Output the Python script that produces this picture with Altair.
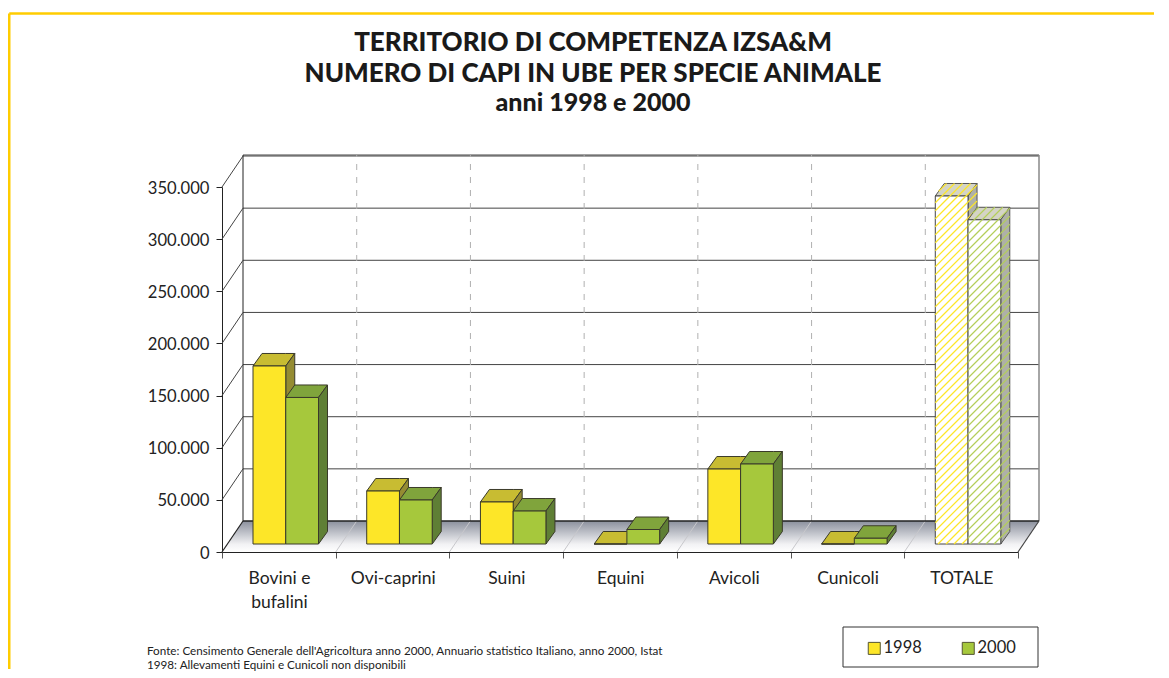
import json
import altair as alt
import pandas as pd

categories = ["Bovini e\nbufalini", "Ovi-caprini", "Suini", "Equini", "Avicoli", "Cunicoli", "TOTALE"]
values_1998 = [170700, 50800, 40300, 0, 71900, 0, 333700]
values_2000 = [140500, 42200, 31600, 13900, 76700, 5500, 310900]
y_ticks = [0, 50000, 100000, 150000, 200000, 250000, 300000, 350000]
title_lines = ["TERRITORIO DI COMPETENZA IZSA&M", "NUMERO DI CAPI IN UBE PER SPECIE ANIMALE", "anni 1998 e 2000"]
notes = ["Fonte: Censimento Generale dell'Agricoltura anno 2000, Annuario statistico Italiano, anno 2000, Istat",
         "1998: Allevamenti Equini e Cunicoli non disponibili"]

W, H = 796, 365
YMAX = 350000
NCAT = len(categories)
FONT = "Lato"
ux = lambda px: px * NCAT / W      # pixels -> x units
uy = lambda px: px * YMAX / H      # pixels -> y units
xs = alt.Scale(domain=[0, NCAT], nice=False, zero=False)
ys = alt.Scale(domain=[0, YMAX], nice=False, zero=False)
X = lambda f="x": alt.X(f"{f}:Q", scale=xs, title=None)
Y = lambda f="y": alt.Y(f"{f}:Q", scale=ys, title=None, stack=None)

WALL_X, WALL_Y = ux(21), uy(31)
BASE_Y = uy(8)
DEP_X, DEP_Y = ux(9), uy(12.5)
BAR_W = ux(32.75)
GROUP_START = ux(31)


def rule(rows, color, width=1.0, dash=None):
    kw = dict(color=color, strokeWidth=width)
    if dash:
        kw["strokeDash"] = dash
    return alt.Chart(pd.DataFrame(rows)).mark_rule(**kw).encode(
        x=X("x"), x2=alt.X2("x2"), y=Y("y"), y2=alt.Y2("y2"))


def polys(rows, fill, stroke="#3a3a2a", width=1.0):
    return alt.Chart(pd.DataFrame(rows)).mark_area(
        fill=fill, stroke=stroke, strokeWidth=width, strokeJoin="round", opacity=1
    ).encode(x=X("x"), y=Y("y"), y2=alt.Y2("y2"), detail="id:N")


def top_face(pid, x0, x1, v):
    return [
        dict(id=pid, x=x0, y=v, y2=v),
        dict(id=pid, x=x0 + DEP_X, y=v, y2=v + DEP_Y),
        dict(id=pid, x=x1, y=v, y2=v + DEP_Y),
        dict(id=pid, x=x1 + DEP_X, y=v + DEP_Y, y2=v + DEP_Y),
    ]


def side_face(pid, x1, base, v):
    return [
        dict(id=pid, x=x1, y=base, y2=v),
        dict(id=pid, x=x1 + DEP_X, y=base + DEP_Y, y2=v + DEP_Y),
    ]


def clip_hatch(poly, step=8.0):
    """Diagonal hatch lines clipped to a convex polygon, given in pixel-like units."""
    cs = [py - px for px, py in poly]
    out = []
    c = -4000 + step * 0.5
    lo, hi = min(cs), max(cs)
    n = len(poly)
    area = sum(poly[i][0] * poly[(i + 1) % n][1] - poly[(i + 1) % n][0] * poly[i][1] for i in range(n))
    sgn = 1 if area > 0 else -1
    while c < hi:
        if c > lo:
            t0, t1 = -1e9, 1e9
            ok = True
            for i in range(n):
                ax, ay = poly[i]
                bx, by = poly[(i + 1) % n]
                nx, ny = -(by - ay) * sgn, (bx - ax) * sgn
                denom = nx + ny
                num = nx * (0 - ax) + ny * (c - ay)
                if abs(denom) < 1e-9:
                    if num < 0:
                        ok = False
                else:
                    t = -num / denom
                    if denom > 0:
                        t0 = max(t0, t)
                    else:
                        t1 = min(t1, t)
            if ok and t1 > t0:
                out.append(dict(x=t0 * NCAT / W, x2=t1 * NCAT / W, y=(t0 + c) * YMAX / H, y2=(t1 + c) * YMAX / H))
        c += step
    return out


def to_px(pts):
    return [(a * W / NCAT, b * H / YMAX) for a, b in pts]


BASE = BASE_Y
fronts, tops, sides = {"1998": [], "2000": []}, {"1998": [], "2000": []}, {"1998": [], "2000": []}
t_front, t_top, t_side, hatches = {}, {}, {}, {}
for yr, vals, shift in (("1998", values_1998, 0), ("2000", values_2000, 1)):
    hatches[yr] = []
    for i, val in enumerate(vals):
        x0 = i + GROUP_START + shift * BAR_W
        x1 = x0 + BAR_W
        v = BASE + val
        if i == NCAT - 1:
            t_front[yr] = [dict(x=x0, x2=x1, y=BASE, y2=v)]
            t_top[yr] = top_face(f"t{yr}", x0, x1, v)
            t_side[yr] = side_face(f"s{yr}", x1, BASE, v)
            for pts in (
                [(x0, BASE), (x1, BASE), (x1, v), (x0, v)],
                [(x0, v), (x1, v), (x1 + DEP_X, v + DEP_Y), (x0 + DEP_X, v + DEP_Y)],
                [(x1, BASE), (x1 + DEP_X, BASE + DEP_Y), (x1 + DEP_X, v + DEP_Y), (x1, v)],
            ):
                hatches[yr] += clip_hatch(to_px(pts))
        else:
            fronts[yr].append(dict(x=x0, x2=x1, y=BASE, y2=v, year=yr))
            tops[yr] += top_face(f"t{yr}{i}", x0, x1, v)
            sides[yr] += side_face(f"s{yr}{i}", x1, BASE, v)

color = alt.Color("year:N", scale=alt.Scale(domain=["1998", "2000"], range=["#FDE628", "#A6C83C"]),
                  legend=alt.Legend(title=None, orient="none", legendX=644, legendY=453, direction="horizontal",
                                    columns=2, padding=0,
                                    symbolType="square", symbolSize=144, symbolStrokeWidth=1,
                                    symbolStrokeColor="#555533", labelFont=FONT, labelFontSize=16.5,
                                    labelColor="#222222", labelOffset=1, columnPadding=38, symbolOpacity=1))


def front(yr):
    return alt.Chart(pd.DataFrame(fronts[yr])).mark_rect(stroke="#3a3a2a", strokeWidth=1, opacity=1).encode(
        x=X("x"), x2=alt.X2("x2"), y=Y("y"), y2=alt.Y2("y2"), color=color)


def t_rect(yr):
    return alt.Chart(pd.DataFrame(t_front[yr])).mark_rect(fill="white", stroke="#444444", strokeWidth=1).encode(
        x=X("x"), x2=alt.X2("x2"), y=Y("y"), y2=alt.Y2("y2"))


layers = []

# real axes
axis_df = pd.DataFrame({"x": [0.0], "y": [0.0]})
label_expr = "split((" + json.dumps(categories) + ")[datum.value] || '', '\\n')"
layers.append(alt.Chart(axis_df).mark_point(opacity=0).encode(
    x=alt.X("x:Q", scale=xs, title=None, axis=alt.Axis(
        values=list(range(NCAT + 1)), labelExpr=label_expr, labelOffset=57, labelFont=FONT, labelFontSize=17.5,
        labelColor="#222222", labelPadding=11, labelLineHeight=24, labelFlush=False, labelOverlap=False,
        labelBound=False, tickSize=6, tickColor="#555555", domainColor="#222222", grid=False, labelAngle=0)),
    y=alt.Y("y:Q", scale=ys, title=None, axis=alt.Axis(
        values=y_ticks, labelExpr="replace(format(datum.value, ','), ',', '.')", labelFont=FONT, labelFontSize=16.6,
        labelColor="#222222", labelPadding=7, labelOffset=1, tickSize=6, tickColor="#222222", domainColor="#222222",
        grid=False, labelOverlap=False, labelBound=False)),
))

# back wall
layers.append(rule([dict(x=WALL_X, x2=NCAT + WALL_X, y=v + WALL_Y, y2=v + WALL_Y) for v in y_ticks[1:]] +
                   [dict(x=WALL_X, x2=NCAT + WALL_X, y=YMAX + uy(32), y2=YMAX + uy(32))], "#444444"))
layers.append(rule([dict(x=WALL_X, x2=WALL_X, y=WALL_Y, y2=YMAX + uy(32))], "#222222"))
layers.append(rule([dict(x=NCAT + WALL_X, x2=NCAT + WALL_X, y=WALL_Y, y2=YMAX + uy(32))], "#888888", 1.5))
layers.append(rule([dict(x=i + WALL_X, x2=i + WALL_X, y=WALL_Y, y2=YMAX + uy(32)) for i in range(1, NCAT)],
                   "#b0b0b0", 1, [6, 7]))
layers.append(rule([dict(x=0, x2=WALL_X, y=v, y2=v + WALL_Y) for v in y_ticks[1:]], "#444444"))

# floor
floor_rows = [dict(id="f", x=0, y=0, y2=0), dict(id="f", x=WALL_X, y=0, y2=WALL_Y),
              dict(id="f", x=NCAT, y=0, y2=WALL_Y), dict(id="f", x=NCAT + WALL_X, y=WALL_Y, y2=WALL_Y)]
floor_fill = alt.Gradient(gradient="linear", x1=0, x2=0, y1=0, y2=1,
                          stops=[alt.GradientStop(offset=0, color="#8B909D"),
                                 alt.GradientStop(offset=0.75, color="#F2F2F4"),
                                 alt.GradientStop(offset=1, color="#FFFFFF")])
layers.append(alt.Chart(pd.DataFrame(floor_rows)).mark_area(fill=floor_fill, strokeWidth=0, opacity=1).encode(
    x=X("x"), y=Y("y"), y2=alt.Y2("y2"), detail="id:N"))
layers.append(rule([dict(x=i, x2=i + WALL_X, y=0, y2=WALL_Y) for i in range(1, NCAT)], "#c8c8cc"))
layers.append(rule([dict(x=WALL_X, x2=NCAT + WALL_X, y=WALL_Y, y2=WALL_Y)], "#222222", 1.6))
layers.append(rule([dict(x=0, x2=WALL_X, y=0, y2=WALL_Y)], "#222222", 1.2))
layers.append(rule([dict(x=NCAT, x2=NCAT + WALL_X, y=0, y2=WALL_Y)], "#444444", 1.2))

# bars
for yr, top_c, side_c, h_c in (("1998", "#C8BC32", "#958C32", "#FDE628"), ("2000", "#80A43C", "#5F7F35", "#B4CE5A")):
    layers.append(polys(tops[yr], top_c))
    layers.append(polys(sides[yr], side_c))
    layers.append(front(yr))
    layers.append(polys(t_top[yr], "#D4D4C6", "#555555"))
    layers.append(polys(t_side[yr], "#AEB0A8", "#555555"))
    layers.append(t_rect(yr))
    layers.append(rule(hatches[yr], h_c, 1.2))

# frame
frame = "#FFCC00"
blank = pd.DataFrame({"a": [0]})
layers.append(alt.Chart(blank).mark_rule(color=frame, strokeWidth=2.5).encode(
    x=alt.value(-212.75), x2=alt.value(932), y=alt.value(-173.5)))
layers.append(alt.Chart(blank).mark_rule(color=frame, strokeWidth=2.5).encode(
    x=alt.value(-212.75), y=alt.value(-173.5), y2=alt.value(482)))

# legend box
layers.insert(0, alt.Chart(blank).mark_rect(fill="white", stroke="#333333", strokeWidth=1).encode(
    x=alt.value(621), x2=alt.value(816), y=alt.value(440), y2=alt.value(480)))

# titles and notes
for line, cy, size in zip(title_lines, (-144, -113, -84), (26, 26, 25)):
    layers.append(alt.Chart(pd.DataFrame({"t": [line]})).mark_text(
        font=FONT, fontWeight=900, fontSize=size, color="#1a1a1a", align="center", baseline="middle"
    ).encode(text="t:N", x=alt.value(371), y=alt.value(cy)))
for line, cy in zip(notes, (464, 478)):
    layers.append(alt.Chart(pd.DataFrame({"t": [line]})).mark_text(
        font=FONT, fontSize=11.7, color="#222222", align="left", baseline="middle"
    ).encode(text="t:N", x=alt.value(-75), y=alt.value(cy)))

chart = alt.layer(*layers).properties(
    width=W, height=H, padding={"left": 0, "top": 4, "right": 0, "bottom": 0}, background="white"
).configure_view(stroke=None)

chart.save("out.html", embed_options={"renderer": "svg", "actions": False})
